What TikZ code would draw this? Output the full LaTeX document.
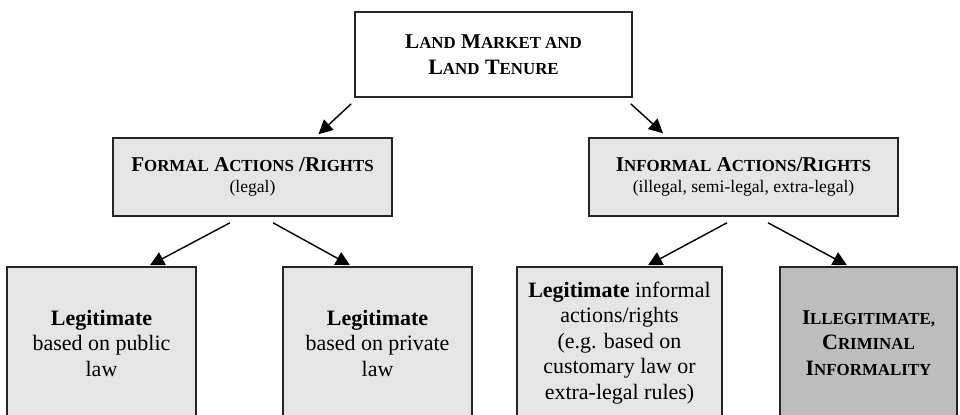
\documentclass[tikz,border=0pt]{standalone}
\usepackage{fontspec}
\setmainfont{Liberation Serif}
\usetikzlibrary{arrows.meta,calc}
\tikzset{>={Triangle[length=8pt,width=8pt]}}
\newcommand\smc[1]{{\fontsize{9.6}{14.5}\selectfont #1}}
\colorlet{boxgray}{black!10}
\colorlet{crimegray}{black!26}

\begin{document}
\begin{tikzpicture}[x=0.02cm,y=-0.02cm,
    box/.style={draw=black!85,line width=0.9pt,align=center,inner sep=0pt,
      fill=boxgray,font=\fontsize{12.5}{14.5}\selectfont},
    conn/.style={->,line width=0.8pt}]
    \useasboundingbox (0,0) rectangle (960,414);
    \clip (0,0) rectangle (960,414);

    \node[box,fill=white,minimum width=5.54cm,minimum height=1.7cm] (market) at (493.5,54.5)
        {\bfseries\fontsize{12}{14.5}\selectfont L\smc{AND} M\smc{ARKET AND}\\\bfseries L\smc{AND} T\smc{ENURE}};

    \node[box,minimum width=5.58cm,minimum height=1.56cm] (formal) at (252.5,177)
        {\bfseries\fontsize{12}{14.5}\selectfont F\smc{ORMAL} A\smc{CTIONS} /R\smc{IGHTS}\\[-2.5pt]{\mdseries\fontsize{10}{12}\selectfont (legal)}};
    \node[box,minimum width=6.18cm,minimum height=1.56cm] (informal) at (743.5,177)
        {\bfseries\fontsize{12}{14.5}\selectfont I\smc{NFORMAL} A\smc{CTIONS}/R\smc{IGHTS}\\[-2.5pt]{\mdseries\fontsize{10}{12}\selectfont (illegal, semi-legal, extra-legal)}};

    \node[box,minimum width=3.78cm,minimum height=3.04cm] (public) at (101.5,343)
        {\textbf{Legitimate}\\based on public\\law};
    \node[box,minimum width=3.78cm,minimum height=3.04cm] (private) at (377.5,343)
        {\textbf{Legitimate}\\based on private\\law};
    \node[box,minimum width=4.1cm,minimum height=3.04cm] (custom) at (619.5,343)
        {\textbf{Legitimate} informal\\actions/rights\\(e.g. based on\\customary law or\\extra-legal rules)};
    \node[box,fill=crimegray,minimum width=3.54cm,minimum height=3.04cm] (crime) at (868.5,343)
        {\bfseries\fontsize{12}{14.5}\selectfont I\smc{LLEGITIMATE,}\\\bfseries C\smc{RIMINAL}\\\bfseries I\smc{NFORMALITY}};

    \draw[conn] ($(market.south west)+(-3,6)$) -- ($(formal.north)+(66,-3)$);
    \draw[conn] ($(market.south east)+(-2,6)$) -- ($(informal.north)+(-80.5,-4)$);
    \draw[conn] ($(formal.south)+(-22.5,6)$) -- ($(public.north)+(48.5,-1)$);
    \draw[conn] ($(formal.south)+(20.5,6)$) -- ($(private.north)+(-27.5,-1)$);
    \draw[conn] ($(informal.south)+(-16.5,6)$) -- ($(custom.north)+(28.5,-1)$);
    \draw[conn] ($(informal.south)+(24.5,6)$) -- ($(crime.north)+(-21.5,-1)$);
\end{tikzpicture}
\end{document}
